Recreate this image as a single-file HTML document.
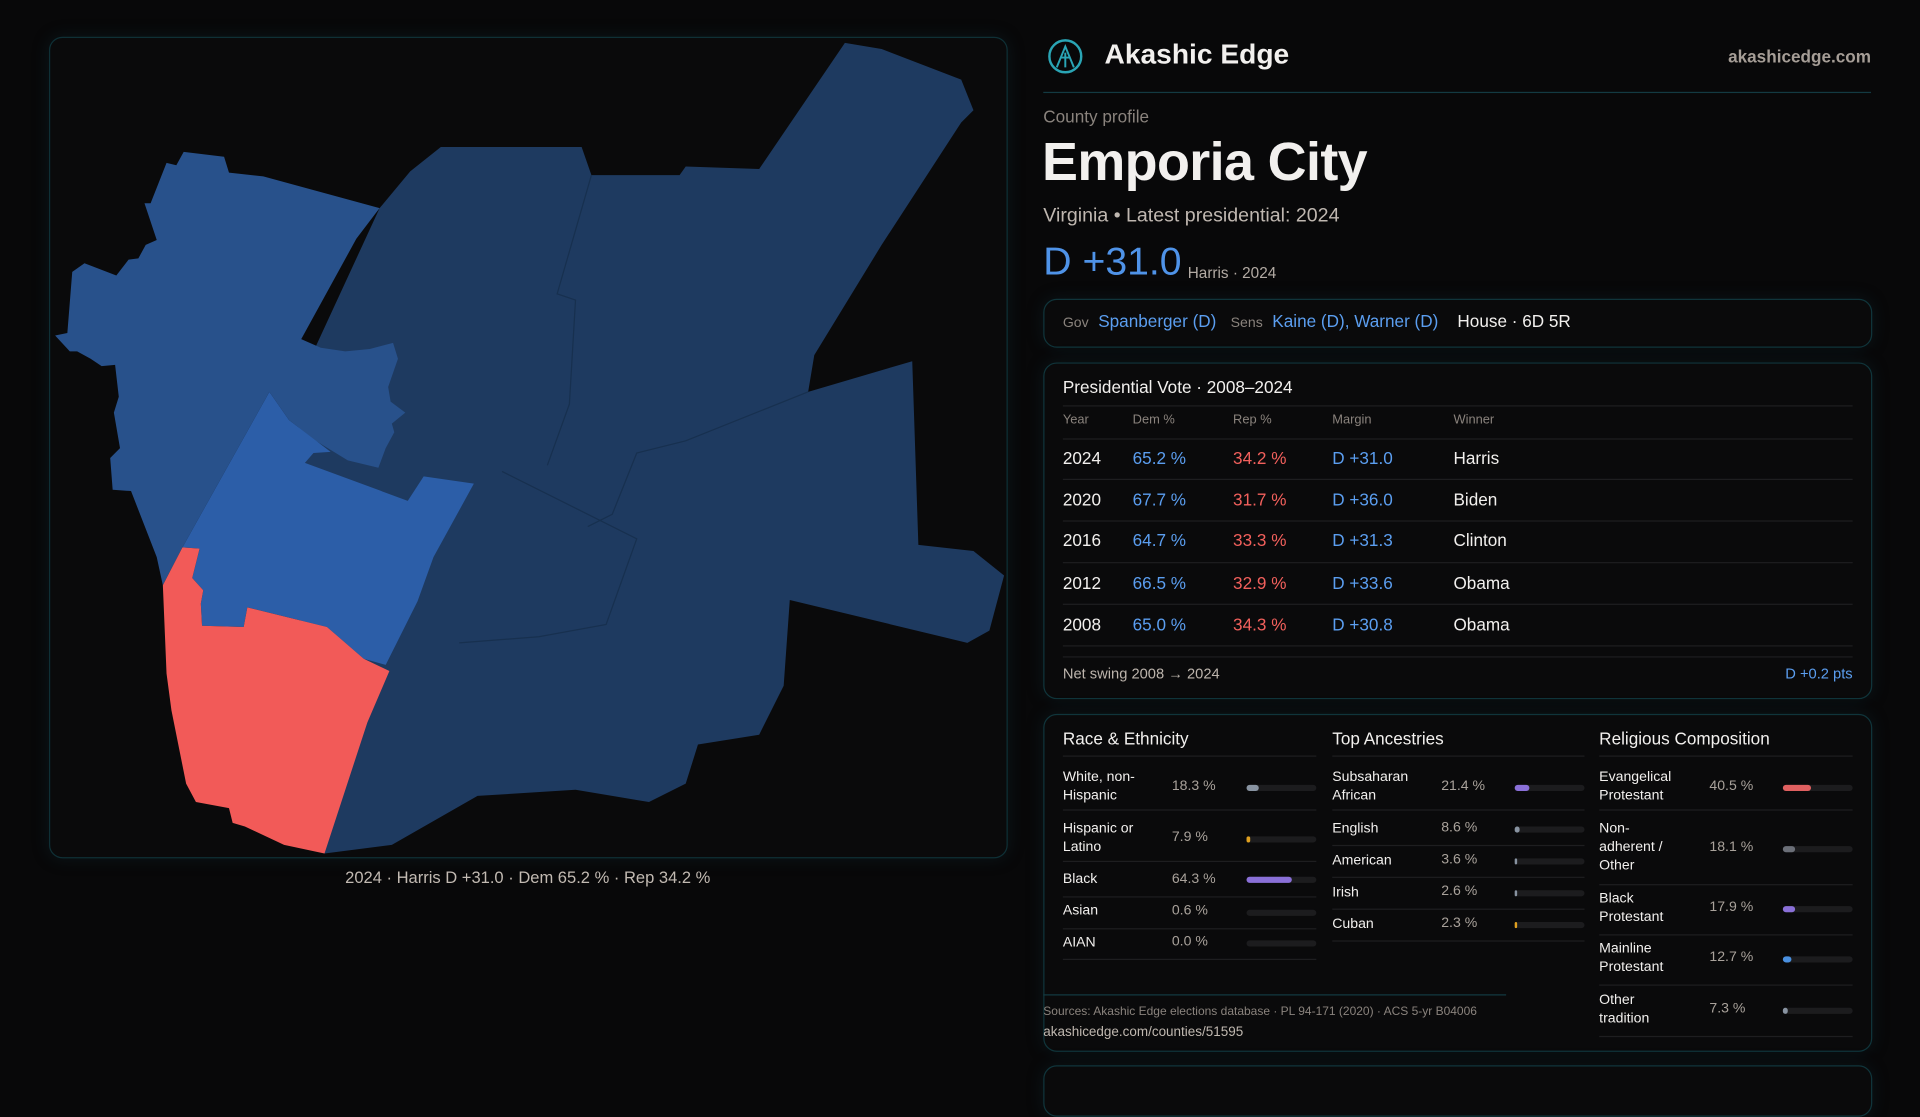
<!DOCTYPE html>
<html><head><meta charset="utf-8"><style>
html,body{margin:0;padding:0;background:#080809;width:1920px;height:1080px;overflow:hidden}
#w{position:absolute;left:0;top:0;width:1568px;height:882px;transform:scale(1.22449);transform-origin:0 0;font-family:"Liberation Sans",sans-serif;color:#f2f0ee}
.a{position:absolute;white-space:nowrap}
.box{position:absolute;border:1px solid #10353b;border-radius:11px;background:#0a0a0b;box-shadow:0 0 14px rgba(20,60,70,.25)}
.g{color:#8a837d}.b{color:#5b9ef0}.r{color:#f2605c}
.sep{position:absolute;height:1px;background:#1e1e20}
.trk{position:absolute;height:5px;border-radius:3px;background:#1c1c1e}
.fill{position:absolute;left:0;top:0;height:5px;border-radius:3px}
.lab{position:absolute;font-size:11.5px;line-height:15px;color:#f2f0ee}
.val{position:absolute;font-size:11.5px;color:#a9a29b}
</style></head><body><div id="w">
<!-- map frame -->
<div class="box" style="left:40px;top:30px;width:781px;height:669px;background:#0a0a0b;border-color:#0f3036"></div>
<svg class="a" style="left:0;top:0" width="840" height="720" viewBox="0 0 840 720">
<polygon fill="#1e3a60" points="310,170 335,140 360,120 475,120 483,143 555,143 560,136 620,138 690,35 720,40 785,65 795,90 785,100 720,200 665,290 660,320 745,295 750,445 795,450 820,470 808,515 790,525 645,490 640,560 620,600 570,608 560,640 530,655 470,645 390,650 320,690 265,697 250,600 240,380 250,300"/>
<polygon fill="#28518b" points="150,124 183,128 187,141 215,144 310,170 291,195 246,277 262,284 282,287 302,285 321,280 325,293 317,316 319,328 331,337 320,346 322,353 315,366 309,382 284,376 258,360 236,343 220,320 149,447 133,478 128,455 107,401 92,400 90,374 98,366 93,337 97,324 94,298 83,299 74,293 63,287 57,287 45,274 55,272 59,222 69,215 95,225 105,212 113,211 119,200 128,196 118,166 123,166 136,133 144,135"/>
<polygon fill="#2c5ea8" points="220,320 236,343 270,369 256,370 249,378 333,409 346,389 387,395 354,455 341,491 315,543 297,538 267,512 202,496 199,512 165,511 164,493 166,482 157,472 163,448 149,447"/>
<polygon fill="#f25a58" points="149,447 163,448 157,472 166,482 164,493 165,511 199,512 202,496 267,512 297,538 318,548 300,590 265,697 232,690 200,675 190,672 187,660 160,655 152,640 140,580 136,550 133,478"/>
<g stroke="#17304f" stroke-width="1" fill="none"><polyline points="483,143 455,240 470,245 465,330 447,380"/><polyline points="660,320 560,360 520,370 500,420 480,430"/><polyline points="410,385 520,440 495,510 440,520 375,525"/></g>
</svg>
<div class="a" style="left:0;width:862px;top:709px;text-align:center;font-size:13.5px;color:#c2bab2">2024 · Harris D +31.0 · Dem 65.2 % · Rep 34.2 %</div>

<!-- header -->
<svg class="a" style="left:855px;top:31px" width="30" height="30" viewBox="0 0 30 30"><circle cx="15" cy="15" r="13" fill="none" stroke="#2aa5b5" stroke-width="2"/><path d="M8 24 L15 7 L22 24 M11 16 L19 16 M15 12 L15 24" stroke="#2aa5b5" stroke-width="1.6" fill="none"/></svg>
<div class="a" style="left:902px;top:31px;font-size:23px;font-weight:bold">Akashic Edge</div>
<div class="a" style="right:40px;top:38px;font-size:14px;color:#a59d96;font-weight:bold">akashicedge.com</div>
<div class="a" style="left:852px;top:75px;width:676px;height:1px;background:#133a42"></div>
<div class="a g" style="left:852px;top:87px;font-size:14px">County profile</div>
<div class="a" style="left:851px;top:108px;font-size:44px;font-weight:bold;letter-spacing:-0.5px">Emporia City</div>
<div class="a" style="left:852px;top:168px;font-size:16px;color:#bfb7b0">Virginia • Latest presidential: 2024</div>
<div class="a b" style="left:852px;top:195px;font-size:32px;color:#4f93e8">D +31.0</div>
<div class="a" style="left:970px;top:216px;font-size:12.5px;color:#b3aba4">Harris · 2024</div>

<div class="box" style="left:852px;top:244px;width:675px;height:38px"></div>
<div class="a" style="left:868px;top:254px;font-size:14px"><span class="g" style="font-size:11.5px">Gov</span>&nbsp; <span class="b">Spanberger (D)</span>&nbsp;&nbsp; <span class="g" style="font-size:11.5px">Sens</span>&nbsp; <span class="b">Kaine (D), Warner (D)</span>&nbsp;&nbsp;&nbsp; <span>House · 6D 5R</span></div>

<!-- presidential -->
<div class="box" style="left:852px;top:296px;width:675px;height:273px"></div>
<div class="a" style="left:868px;top:308px;font-size:14px">Presidential Vote · 2008–2024</div>
<div class="sep" style="left:868px;top:331px;width:645px"></div>
<div class="a g" style="left:868px;top:337px;font-size:10.5px">Year</div>
<div class="a g" style="left:925px;top:337px;font-size:10.5px">Dem %</div>
<div class="a g" style="left:1007px;top:337px;font-size:10.5px">Rep %</div>
<div class="a g" style="left:1088px;top:337px;font-size:10.5px">Margin</div>
<div class="a g" style="left:1187px;top:337px;font-size:10.5px">Winner</div>
<div class="sep" style="left:868px;top:358px;width:645px"></div>
<div style="position:absolute;left:868px;top:366px;font-size:14px">
<div class="a" style="top:0">2024</div><div class="a b" style="left:57px;top:0">65.2 %</div><div class="a r" style="left:139px;top:0">34.2 %</div><div class="a b" style="left:220px;top:0">D +31.0</div><div class="a" style="left:319px;top:0">Harris</div>
<div class="a" style="top:34px">2020</div><div class="a b" style="left:57px;top:34px">67.7 %</div><div class="a r" style="left:139px;top:34px">31.7 %</div><div class="a b" style="left:220px;top:34px">D +36.0</div><div class="a" style="left:319px;top:34px">Biden</div>
<div class="a" style="top:67px">2016</div><div class="a b" style="left:57px;top:67px">64.7 %</div><div class="a r" style="left:139px;top:67px">33.3 %</div><div class="a b" style="left:220px;top:67px">D +31.3</div><div class="a" style="left:319px;top:67px">Clinton</div>
<div class="a" style="top:102px">2012</div><div class="a b" style="left:57px;top:102px">66.5 %</div><div class="a r" style="left:139px;top:102px">32.9 %</div><div class="a b" style="left:220px;top:102px">D +33.6</div><div class="a" style="left:319px;top:102px">Obama</div>
<div class="a" style="top:136px">2008</div><div class="a b" style="left:57px;top:136px">65.0 %</div><div class="a r" style="left:139px;top:136px">34.3 %</div><div class="a b" style="left:220px;top:136px">D +30.8</div><div class="a" style="left:319px;top:136px">Obama</div>
</div>
<div class="sep" style="left:868px;top:391px;width:645px"></div>
<div class="sep" style="left:868px;top:425px;width:645px"></div>
<div class="sep" style="left:868px;top:459px;width:645px"></div>
<div class="sep" style="left:868px;top:493px;width:645px"></div>
<div class="sep" style="left:868px;top:527px;width:645px"></div>
<div class="sep" style="left:868px;top:536px;width:645px"></div>
<div class="a" style="left:868px;top:543px;font-size:12px;color:#bdb5ad">Net swing 2008 → 2024</div>
<div class="a b" style="right:55px;top:543px;font-size:12px">D +0.2 pts</div>

<!-- demographics -->
<div class="box" style="left:852px;top:583px;width:675px;height:274px"></div>
<div class="a" style="left:868px;top:595px;font-size:14px">Race &amp; Ethnicity</div>
<div class="a" style="left:1088px;top:595px;font-size:14px">Top Ancestries</div>
<div class="a" style="left:1306px;top:595px;font-size:14px">Religious Composition</div>
<div class="sep" style="left:868px;top:617px;width:207px"></div>
<div class="sep" style="left:1088px;top:617px;width:206px"></div>
<div class="sep" style="left:1306px;top:617px;width:207px"></div>

<!-- race -->
<div class="lab" style="left:868px;top:628px">White, non-<br>Hispanic</div><div class="val" style="left:957px;top:636px">18.3 %</div><div class="trk" style="left:1018px;top:641px;width:57px"><div class="fill" style="width:10px;background:#8893a1"></div></div>
<div class="sep" style="left:868px;top:661px;width:207px"></div>
<div class="lab" style="left:868px;top:670px">Hispanic or<br>Latino</div><div class="val" style="left:957px;top:678px">7.9 %</div><div class="trk" style="left:1018px;top:683px;width:57px"><div class="fill" style="width:3px;background:#e0a020"></div></div>
<div class="sep" style="left:868px;top:703px;width:207px"></div>
<div class="lab" style="left:868px;top:711px">Black</div><div class="val" style="left:957px;top:712px">64.3 %</div><div class="trk" style="left:1018px;top:716px;width:57px"><div class="fill" style="width:37px;background:#8a70d8"></div></div>
<div class="sep" style="left:868px;top:732px;width:207px"></div>
<div class="lab" style="left:868px;top:737px">Asian</div><div class="val" style="left:957px;top:738px">0.6 %</div><div class="trk" style="left:1018px;top:743px;width:57px"></div>
<div class="sep" style="left:868px;top:758px;width:207px"></div>
<div class="lab" style="left:868px;top:763px">AIAN</div><div class="val" style="left:957px;top:763px">0.0 %</div><div class="trk" style="left:1018px;top:768px;width:57px"></div>
<div class="sep" style="left:868px;top:783px;width:207px"></div>

<!-- ancestry -->
<div class="lab" style="left:1088px;top:628px">Subsaharan<br>African</div><div class="val" style="left:1177px;top:636px">21.4 %</div><div class="trk" style="left:1237px;top:641px;width:57px"><div class="fill" style="width:12px;background:#8a70d8"></div></div>
<div class="sep" style="left:1088px;top:661px;width:206px"></div>
<div class="lab" style="left:1088px;top:670px">English</div><div class="val" style="left:1177px;top:670px">8.6 %</div><div class="trk" style="left:1237px;top:675px;width:57px"><div class="fill" style="width:4px;background:#8893a1"></div></div>
<div class="sep" style="left:1088px;top:690px;width:206px"></div>
<div class="lab" style="left:1088px;top:696px">American</div><div class="val" style="left:1177px;top:696px">3.6 %</div><div class="trk" style="left:1237px;top:701px;width:57px"><div class="fill" style="width:2px;background:#8893a1"></div></div>
<div class="sep" style="left:1088px;top:716px;width:206px"></div>
<div class="lab" style="left:1088px;top:722px">Irish</div><div class="val" style="left:1177px;top:722px">2.6 %</div><div class="trk" style="left:1237px;top:727px;width:57px"><div class="fill" style="width:2px;background:#8893a1"></div></div>
<div class="sep" style="left:1088px;top:742px;width:206px"></div>
<div class="lab" style="left:1088px;top:748px">Cuban</div><div class="val" style="left:1177px;top:748px">2.3 %</div><div class="trk" style="left:1237px;top:753px;width:57px"><div class="fill" style="width:2px;background:#e0a020"></div></div>
<div class="sep" style="left:1088px;top:768px;width:206px"></div>

<!-- religion -->
<div class="lab" style="left:1306px;top:628px">Evangelical<br>Protestant</div><div class="val" style="left:1396px;top:636px">40.5 %</div><div class="trk" style="left:1456px;top:641px;width:57px"><div class="fill" style="width:23px;background:#e06060"></div></div>
<div class="sep" style="left:1306px;top:661px;width:207px"></div>
<div class="lab" style="left:1306px;top:670px">Non-<br>adherent /<br>Other</div><div class="val" style="left:1396px;top:686px">18.1 %</div><div class="trk" style="left:1456px;top:691px;width:57px"><div class="fill" style="width:10px;background:#6b6f78"></div></div>
<div class="sep" style="left:1306px;top:722px;width:207px"></div>
<div class="lab" style="left:1306px;top:727px">Black<br>Protestant</div><div class="val" style="left:1396px;top:735px">17.9 %</div><div class="trk" style="left:1456px;top:740px;width:57px"><div class="fill" style="width:10px;background:#8a70d8"></div></div>
<div class="sep" style="left:1306px;top:763px;width:207px"></div>
<div class="lab" style="left:1306px;top:768px">Mainline<br>Protestant</div><div class="val" style="left:1396px;top:776px">12.7 %</div><div class="trk" style="left:1456px;top:781px;width:57px"><div class="fill" style="width:7px;background:#4a90e0"></div></div>
<div class="sep" style="left:1306px;top:804px;width:207px"></div>
<div class="lab" style="left:1306px;top:810px">Other<br>tradition</div><div class="val" style="left:1396px;top:818px">7.3 %</div><div class="trk" style="left:1456px;top:823px;width:57px"><div class="fill" style="width:4px;background:#8893a1"></div></div>
<div class="sep" style="left:1306px;top:846px;width:207px"></div>

<div class="a" style="left:852px;top:812px;width:378px;height:1px;background:#143a42"></div>
<div class="a g" style="left:852px;top:821px;font-size:9.8px">Sources: Akashic Edge elections database · PL 94-171 (2020) · ACS 5-yr B04006</div>
<div class="a" style="left:852px;top:837px;font-size:11px;color:#c0b8b0">akashicedge.com/counties/51595</div>

<div class="box" style="left:852px;top:870px;width:675px;height:40px"></div>
</div></body></html>
